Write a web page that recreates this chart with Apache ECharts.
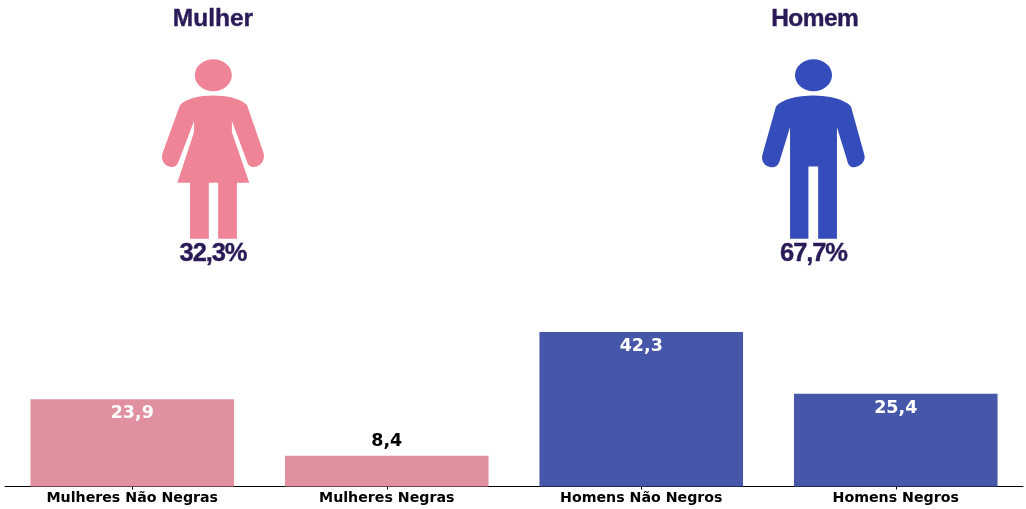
<!DOCTYPE html>
<html><head><meta charset="utf-8">
<style>html,body{margin:0;padding:0;background:#fff}#c{width:1026px;height:509px}</style>
<script src="https://cdn.jsdelivr.net/npm/echarts@6/dist/echarts.min.js"></script>
</head><body><div id="c"></div>
<script>
const categories = ['Mulheres Não Negras','Mulheres Negras','Homens Não Negros','Homens Negros'];
const values = [23.9, 8.4, 42.3, 25.4];
const genders = ['Mulher','Homem'];
const genderShares = ['32,3%','67,7%'];

const PINK_BAR='#e0909f', BLUE_BAR='#4657a9', PINK_ICON='#f08497', BLUE_ICON='#354dbb', INK='#2a1b58';
const womanPath='M180,105 C192,92.5 234,92.5 246.7,105 L263,152 C266,161 259,167 253,167 C250,167 248,165 247.3,163 L231.7,121 L231.7,132 L249,182.7 L236.7,182.7 L236.7,238.7 L218,238.7 L218,182.7 L208.7,182.7 L208.7,238.7 L190,238.7 L190,182.7 L177.3,182.7 L194,132 L194,121 L178,163 C177,165 175,167 172,167 C166,167 159.5,161 163,152 Z';
const manPath='M776,107 C788,92.5 838,92.5 850.7,107 L864,155 C866,162 859,167.5 853,167.5 C850,167.5 847.5,165 846.7,160 L836.7,127.7 L836.7,238.7 L818,238.7 L818,166.7 L808.3,166.7 L808.3,238.7 L790,238.7 L790,127.7 L780,160 C779,165 776,167.5 772,167.5 C766,167.5 760.5,162 762.5,155 Z';

const ctx=document.createElement('canvas').getContext('2d');
// Lays a string out letter by letter so that the tight tracking of the original can be kept.
function txt(s,cx,y,size,track){
  ctx.font='bold '+size+'px "Liberation Sans"';
  const chars=[...s];
  const adv=chars.map(c=>ctx.measureText(c).width+track);
  const total=adv.reduce((a,b)=>a+b,0)-track;
  let x=cx-total/2;
  return chars.map((c,i)=>{
    const el={type:'text',x:x,y:y,style:{text:c,align:'left',verticalAlign:'middle',fill:INK,stroke:INK,lineWidth:0.4,fontFamily:'Liberation Sans',fontWeight:'bold',fontSize:size}};
    x+=adv[i];
    return el;
  });
}
const icons=[
  {d:womanPath,fill:PINK_ICON,x:162,y:95.5,w:102,h:143.2},
  {d:manPath,fill:BLUE_ICON,x:762,y:95.5,w:102.7,h:143.2}
];
const chart=echarts.init(document.getElementById('c'),null,{renderer:'canvas'});
chart.setOption({
  animation:false,
  backgroundColor:'#fff',
  grid:{left:5,right:3,top:121.5,bottom:22.5},
  xAxis:{type:'category',data:categories,
    axisLine:{lineStyle:{color:'#000',width:1}},
    axisTick:{show:true,alignWithLabel:true,length:3,lineStyle:{color:'#000',width:1}},
    axisLabel:{color:'#000',fontFamily:'DejaVu Sans',fontWeight:'bold',fontSize:14.2,margin:5,interval:0}},
  yAxis:{type:'value',min:0,max:100,show:false,splitLine:{show:false}},
  series:[{type:'bar',barWidth:'80%',
    data:values.map(v=>v>10?{value:v,label:{position:'insideTop',distance:5.5,color:'#fff'}}:{value:v}),
    itemStyle:{color:p=>p.dataIndex<2?PINK_BAR:BLUE_BAR},
    label:{show:true,position:'top',distance:5,fontFamily:'DejaVu Sans',fontWeight:'bold',fontSize:17.5,color:'#000',
      formatter:p=>p.value.toFixed(1).replace('.',',')}
  },{type:'custom',coordinateSystem:'none',silent:true,data:[0,1],
    renderItem:(params)=>{const i=icons[params.dataIndex];
      return {type:'path',shape:{pathData:i.d,layout:'cover',x:i.x,y:i.y,width:i.w,height:i.h},style:{fill:i.fill}};}
  }],
  graphic:[
    ...txt(genders[0],213,19.5,24.5,0),
    ...txt(genders[1],815,19.5,24.5,-0.6),
    ...txt(genderShares[0],213.5,253.5,25.5,-1.1),
    ...txt(genderShares[1],814,253.5,25.5,-1.1),
    {type:'ellipse',shape:{cx:213.3,cy:75.3,rx:18.5,ry:16},style:{fill:PINK_ICON}},
    {type:'ellipse',shape:{cx:813.5,cy:75.3,rx:18.5,ry:16},style:{fill:BLUE_ICON}}
  ]
});
</script></body></html>
